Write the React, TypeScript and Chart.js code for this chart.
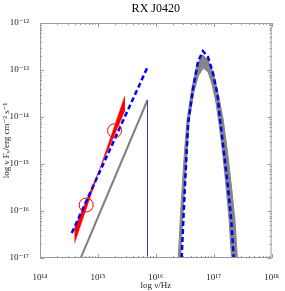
import React, { useEffect, useRef } from "react";
import { Chart, registerables } from "chart.js";

Chart.register(...registerables);

const chartTitle = "RX J0420";
const xAxisTitle = "log ν/Hz";
const yAxisTitle = "log ν Fᵥ/erg cm⁻² s⁻¹";

const xMinExp = 14;
const xMaxExp = 18;
const yMinExp = -17;
const yMaxExp = -12;

// All values are log10(nu/Hz) and log10(nuFnu / erg cm^-2 s^-1)
const bowtieLogNu = [14.596, 15.03, 15.46, 15.46, 15.03, 14.596];
const bowtieLogF = [-16.362, -15.117, -13.568, -13.883, -15.117, -16.687];

const circleLogNu = [14.798, 15.288];
const circleLogF = [-15.872, -14.291];

const blueLineLogNu = [14.549, 15.868];
const blueLineLogF = [-16.468, -12.909];

const grayLineLogNu = [14.704, 15.857];
const grayLineLogF = [-17.0, -13.638];

const cutoffLogNu = [15.857, 15.857];
const cutoffLogF = [-13.638, -17.0];

const blueCurveLogNu = [16.447, 16.476, 16.503, 16.532, 16.56, 16.645, 16.729, 16.813, 16.898, 16.982, 17.067, 17.111, 17.178, 17.246, 17.303, 17.347];
const blueCurveLogF = [-17.0, -16.191, -15.483, -14.772, -14.106, -13.389, -12.823, -12.596, -12.717, -13.036, -13.532, -14.064, -14.772, -15.483, -16.191, -17.0];

const bandOuterLogNu = [16.389, 16.422, 16.456, 16.498, 16.54, 16.624, 16.709, 16.81, 16.903, 17.004, 17.089, 17.165, 17.241, 17.308, 17.367, 17.409];
const bandOuterLogF = [-17.0, -16.191, -15.483, -14.702, -14.064, -13.383, -12.894, -12.681, -12.787, -13.106, -13.574, -14.064, -14.766, -15.489, -16.191, -17.0];
const bandInnerLogNu = [16.43, 16.464, 16.498, 16.54, 16.574, 16.658, 16.734, 16.819, 16.903, 16.97, 17.038, 17.089, 17.156, 17.215, 17.266, 17.308];
const bandInnerLogF = [-17.0, -16.191, -15.483, -14.766, -14.106, -13.468, -13.128, -12.957, -13.043, -13.298, -13.681, -14.106, -14.766, -15.489, -16.191, -17.0];

const toPts = (lx: number[], ly: number[]) =>
  lx.map((v, i) => ({ x: Math.pow(10, v), y: Math.pow(10, ly[i]) }));

const SUP = "⁰¹²³⁴⁵⁶⁷⁸⁹";
const sup = (n: number) =>
  String(n)
    .split("")
    .map((c) => (c === "-" ? "⁻" : SUP["0123456789".indexOf(c)] ?? c))
    .join("");

const isDecade = (v: number) => {
  const l = Math.log10(v);
  return Math.abs(l - Math.round(l)) < 1e-6;
};

const framePlugin = {
  id: "frame",
  afterDatasetsDraw(chart: any) {
    const { ctx, chartArea: a, scales } = chart;
    const xs = scales.x;
    const ys = scales.y;
    ctx.save();
    ctx.strokeStyle = "#9a9a9a";
    ctx.lineWidth = 1;
    ctx.strokeRect(a.left + 0.5, a.top + 0.5, a.right - a.left - 1, a.bottom - a.top - 1);
    ctx.beginPath();
    for (let e = xMinExp; e <= xMaxExp; e++) {
      for (let m = 1; m <= 9; m++) {
        const v = m * Math.pow(10, e);
        if (v > Math.pow(10, xMaxExp) * 1.0001) break;
        const px = Math.round(xs.getPixelForValue(v)) + 0.5;
        const len = m === 1 ? 4 : 2;
        ctx.moveTo(px, a.bottom);
        ctx.lineTo(px, a.bottom - len);
        ctx.moveTo(px, a.top);
        ctx.lineTo(px, a.top + len);
      }
    }
    for (let e = yMinExp; e <= yMaxExp; e++) {
      for (let m = 1; m <= 9; m++) {
        const v = m * Math.pow(10, e);
        if (v > Math.pow(10, yMaxExp) * 1.0001) break;
        const py = Math.round(ys.getPixelForValue(v)) + 0.5;
        const len = m === 1 ? 4 : 2;
        ctx.moveTo(a.left, py);
        ctx.lineTo(a.left + len, py);
        ctx.moveTo(a.right, py);
        ctx.lineTo(a.right - len, py);
      }
    }
    ctx.stroke();
    ctx.restore();
  },
};

const serif = "'Liberation Serif', 'DejaVu Serif', serif";

export default function App() {
  const ref = useRef<HTMLCanvasElement | null>(null);

  useEffect(() => {
    if (!ref.current) return;
    const bandPts = [
      ...toPts(bandOuterLogNu, bandOuterLogF),
      ...toPts(bandInnerLogNu, bandInnerLogF).reverse(),
    ];
    const chart = new Chart(ref.current, {
      type: "scatter",
      data: {
        datasets: [
          {
            data: toPts(circleLogNu, circleLogF),
            showLine: false,
            pointRadius: 7,
            pointStyle: "circle",
            borderColor: "#ff0000",
            backgroundColor: "rgba(0,0,0,0)",
            borderWidth: 1,
            order: 0,
          },
          {
            data: toPts(blueLineLogNu, blueLineLogF),
            showLine: true,
            borderColor: "#0000ff",
            borderWidth: 2.5,
            borderDash: [5, 3],
            pointRadius: 0,
            order: 1,
          },
          {
            data: toPts(blueCurveLogNu, blueCurveLogF),
            showLine: true,
            borderColor: "#0000ff",
            borderWidth: 2.5,
            borderDash: [5, 3],
            pointRadius: 0,
            order: 1,
          },
          {
            data: toPts(bowtieLogNu, bowtieLogF),
            showLine: true,
            fill: "shape",
            borderColor: "#ff0000",
            backgroundColor: "#ff0000",
            borderWidth: 0.5,
            pointRadius: 0,
            order: 2,
          },
          {
            data: toPts(cutoffLogNu, cutoffLogF),
            showLine: true,
            borderColor: "#3c3cc0",
            borderWidth: 1,
            pointRadius: 0,
            order: 3,
          },
          {
            data: toPts(grayLineLogNu, grayLineLogF),
            showLine: true,
            borderColor: "#808080",
            borderWidth: 2,
            pointRadius: 0,
            order: 4,
          },
          {
            data: bandPts,
            showLine: true,
            fill: "shape",
            borderColor: "#858585",
            backgroundColor: "#858585",
            borderWidth: 1,
            pointRadius: 0,
            order: 5,
          },
        ],
      },
      options: {
        responsive: false,
        animation: false,
        devicePixelRatio: 1,
        layout: { padding: { left: 0, right: 8, top: 0, bottom: 0 } },
        plugins: {
          legend: { display: false },
          tooltip: { enabled: false },
          title: {
            display: true,
            text: chartTitle,
            fullSize: false,
            color: "#000",
            font: { family: serif, size: 12, weight: "normal" },
            padding: { top: 2, bottom: 6.6 },
          },
        },
        scales: {
          x: {
            type: "logarithmic",
            min: Math.pow(10, xMinExp),
            max: Math.pow(10, xMaxExp),
            grid: { display: false },
            border: { display: false },
            afterFit: (s: any) => {
              s.height = 33;
            },
            ticks: {
              autoSkip: false,
              maxRotation: 0,
              minRotation: 0,
              padding: 6,
              color: "#222",
              font: { family: serif, size: 9 },
              callback: (v: any) => (isDecade(Number(v)) ? "10" + sup(Math.round(Math.log10(Number(v)))) : ""),
            },
            title: {
              display: true,
              text: xAxisTitle,
              color: "#222",
              font: { family: serif, size: 9 },
              padding: { top: 2, bottom: 0 },
            },
          },
          y: {
            type: "logarithmic",
            min: Math.pow(10, yMinExp),
            max: Math.pow(10, yMaxExp),
            grid: { display: false },
            border: { display: false },
            afterFit: (s: any) => {
              s.width = 40;
            },
            ticks: {
              autoSkip: false,
              padding: 3,
              color: "#222",
              font: { family: serif, size: 9 },
              callback: (v: any) => (isDecade(Number(v)) ? "10" + sup(Math.round(Math.log10(Number(v)))) : ""),
            },
            title: {
              display: true,
              text: yAxisTitle,
              color: "#222",
              font: { family: serif, size: 9 },
              padding: { top: 1, bottom: 0 },
            },
          },
        },
      },
      plugins: [framePlugin],
    } as any);
    return () => chart.destroy();
  }, []);

  return (
    <div style={{ position: "fixed", left: 0, top: 0, width: 285, height: 291, background: "#fff" }}>
      <canvas ref={ref} width={285} height={291} />
    </div>
  );
}
